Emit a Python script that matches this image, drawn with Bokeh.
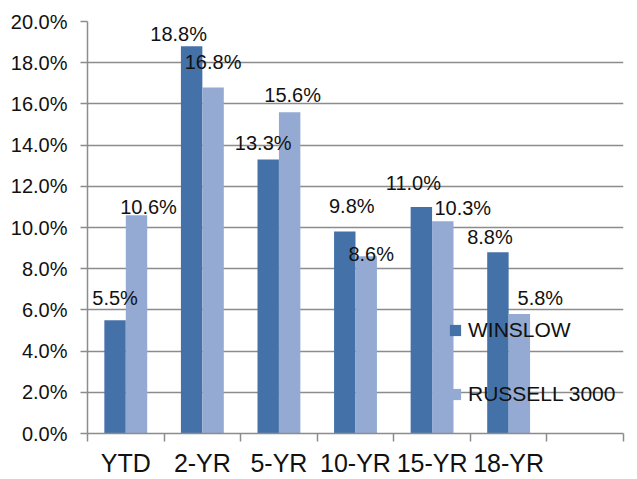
from bokeh.plotting import figure
from bokeh.models import ColumnDataSource, FixedTicker, PrintfTickFormatter, Legend, LegendItem, Range1d
from bokeh.core.properties import value
from bokeh.embed import file_html
from bokeh.resources import INLINE

categories = ["YTD", "2-YR", "5-YR", "10-YR", "15-YR", "18-YR"]
winslow = [5.5, 18.8, 13.3, 9.8, 11.0, 8.8]
russell = [10.6, 16.8, 15.6, 8.6, 10.3, 5.8]
y_ticks = [0, 2, 4, 6, 8, 10, 12, 14, 16, 18, 20]
n_slots = 7

# label nudges (screen px), as placed in the original chart
w_dx = [0, -13, -5, 7, -8, -8]
w_dy = [-22, -12, -17, -26, -24, -15]
r_dx = [12, 0, 3, 5, 20, 21]
r_dy = [-8, -25, -17, -2, -13, -16]

DARK = "#4472A8"
LIGHT = "#94AAD3"
GRID = "#8C8C8C"
FONT = "Liberation Sans"

centers = [i + 0.5 for i in range(len(categories))]
bw = 0.28
src_w = ColumnDataSource(dict(x=[c - bw / 2 for c in centers], top=winslow,
                              lab=["%.1f%%" % v for v in winslow], dx=w_dx, dy=w_dy))
src_r = ColumnDataSource(dict(x=[c + bw / 2 for c in centers], top=russell,
                              lab=["%.1f%%" % v for v in russell], dx=r_dx, dy=r_dy))

p = figure(width=637, height=479, output_backend="svg", toolbar_location=None,
           x_range=Range1d(0, n_slots), y_range=Range1d(0, 20),
           min_border_left=87, min_border_right=14, min_border_top=21, min_border_bottom=45)
p.outline_line_color = None
p.background_fill_color = "white"
p.border_fill_color = "white"

rw = p.vbar(x="x", top="top", width=bw, source=src_w, fill_color=DARK, line_color=None)
rr = p.vbar(x="x", top="top", width=bw, source=src_r, fill_color=LIGHT, line_color=None)

for src in (src_w, src_r):
    p.text(x="x", y="top", text="lab", source=src, x_offset="dx", y_offset="dy",
           text_align="center", text_baseline="middle",
           text_font=value(FONT), text_font_size="20px", text_color="#111111")

# y axis
p.yaxis.ticker = FixedTicker(ticks=y_ticks)
p.yaxis.formatter = PrintfTickFormatter(format="%.1f%%")
p.yaxis.axis_line_color = GRID
p.yaxis.axis_line_width = 1.5
p.yaxis.major_tick_line_color = GRID
p.yaxis.major_tick_line_width = 1.5
p.yaxis.major_tick_out = 7
p.yaxis.major_tick_in = 0
p.yaxis.minor_tick_line_color = None
p.yaxis.major_label_standoff = 13
p.yaxis.major_label_text_font = FONT
p.yaxis.major_label_text_font_size = "20px"
p.yaxis.major_label_text_color = "#111111"

# x axis: labels at slot centers, ticks at slot boundaries
p.xaxis.ticker = FixedTicker(ticks=centers, minor_ticks=list(range(n_slots + 1)))
p.xaxis.major_label_overrides = {c: lab for c, lab in zip(centers, categories)}
p.xaxis.axis_line_color = GRID
p.xaxis.axis_line_width = 1.5
p.xaxis.major_tick_line_color = None
p.xaxis.major_tick_out = 0
p.xaxis.major_tick_in = 0
p.xaxis.minor_tick_line_color = GRID
p.xaxis.minor_tick_line_width = 1.5
p.xaxis.minor_tick_out = 8
p.xaxis.minor_tick_in = 0
p.xaxis.major_label_standoff = 7
p.xaxis.major_label_text_font = FONT
p.xaxis.major_label_text_font_size = "25px"
p.xaxis.major_label_text_color = "#111111"

p.xgrid.grid_line_color = None
p.ygrid.grid_line_color = GRID
p.ygrid.grid_line_width = 1.5

legend = Legend(items=[LegendItem(label="WINSLOW", renderers=[rw]),
                       LegendItem(label="RUSSELL 3000", renderers=[rr])],
                location=(361, 27), orientation="vertical",
                padding=0, margin=0, spacing=40,
                glyph_width=14, glyph_height=14, label_height=20, label_standoff=6,
                label_text_font=FONT, label_text_font_size="21px", label_text_color="#111111",
                background_fill_alpha=0, border_line_color=None)
p.add_layout(legend, "center")

open("out.html", "w").write(file_html(p, INLINE))
